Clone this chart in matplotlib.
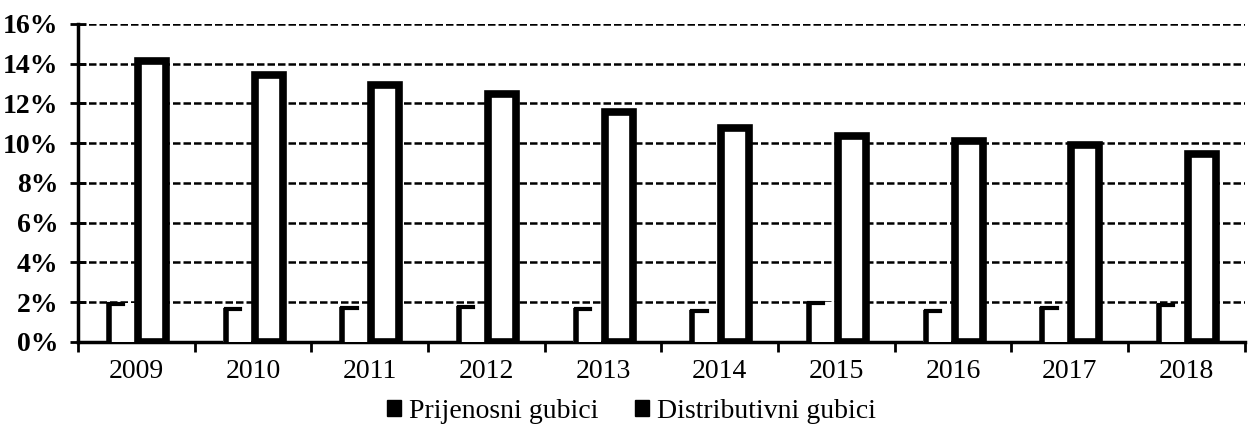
import numpy as np
import matplotlib.pyplot as plt
from matplotlib.patches import Rectangle

# podaci (u %)
godine = ['2009', '2010', '2011', '2012', '2013', '2014', '2015', '2016', '2017', '2018']
prijenosni = [1.95, 1.7, 1.75, 1.8, 1.7, 1.6, 2.0, 1.6, 1.75, 1.9]
distributivni = [14.15, 13.45, 12.95, 12.45, 11.55, 10.75, 10.35, 10.1, 9.9, 9.45]
y_ticks = [0, 2, 4, 6, 8, 10, 12, 14, 16]

plt.rcParams['font.family'] = ['Liberation Serif', 'DejaVu Serif']

fig = plt.figure(figsize=(12.51, 4.34), dpi=100)
ax = fig.add_axes([0.0623, 0.212, 0.9327, 0.733])

x = np.arange(len(godine))
w = 0.24
off = 0.135

# prijenosni gubici - slabo vidljivi stupci (samo lijevi rub i vrh)
bars1 = ax.bar(x - off, prijenosni, w, color='white', edgecolor='none', zorder=3)
for p in bars1:
    x0, h = p.get_x(), p.get_height()
    ax.plot([x0 + 0.02, x0 + 0.02], [0, h], color='black', lw=4, zorder=4, solid_capstyle='butt')
    ax.plot([x0 + 0.02, x0 + 0.6 * p.get_width()], [h - 0.05, h - 0.05], color='black', lw=3, zorder=4)

# distributivni gubici
ax.bar(x + off, distributivni, w, color='white', edgecolor='black', linewidth=5.5, zorder=3)

ax.set_xlim(-0.5, len(godine) - 0.5)
ax.set_ylim(0, 16)
ax.set_yticks(y_ticks)
ax.set_yticklabels([f'{v}%' for v in y_ticks], fontsize=20, fontweight='bold')

# granice kategorija kao glavne oznake, godine kao sporedne
ax.set_xticks(np.arange(len(godine) + 1) - 0.5)
ax.set_xticklabels([])
ax.set_xticks(x, minor=True)
ax.set_xticklabels(godine, minor=True, fontsize=20)
ax.tick_params(axis='x', which='major', direction='out', length=7, width=2)
ax.tick_params(axis='x', which='minor', length=0, pad=12)
ax.tick_params(axis='y', direction='inout', length=12, width=2, pad=8)

ax.grid(axis='y', color='black', linestyle=(0, (3, 1.2)), linewidth=1.8, zorder=0)
ax.set_axisbelow(True)

for s in ['top', 'right']:
    ax.spines[s].set_visible(False)
ax.spines['left'].set_linewidth(2.5)
ax.spines['bottom'].set_linewidth(2.5)

handles = [Rectangle((0, 0), 1, 1, color='black'), Rectangle((0, 0), 1, 1, color='black')]
fig.legend(handles, ['Prijenosni gubici', 'Distributivni gubici'], loc='center',
           bbox_to_anchor=(0.505, 0.052), ncol=2, frameon=False, fontsize=20,
           handlelength=0.5, handleheight=0.5, handletextpad=0.3, columnspacing=1.3)

plt.savefig('out.png', dpi=100)
